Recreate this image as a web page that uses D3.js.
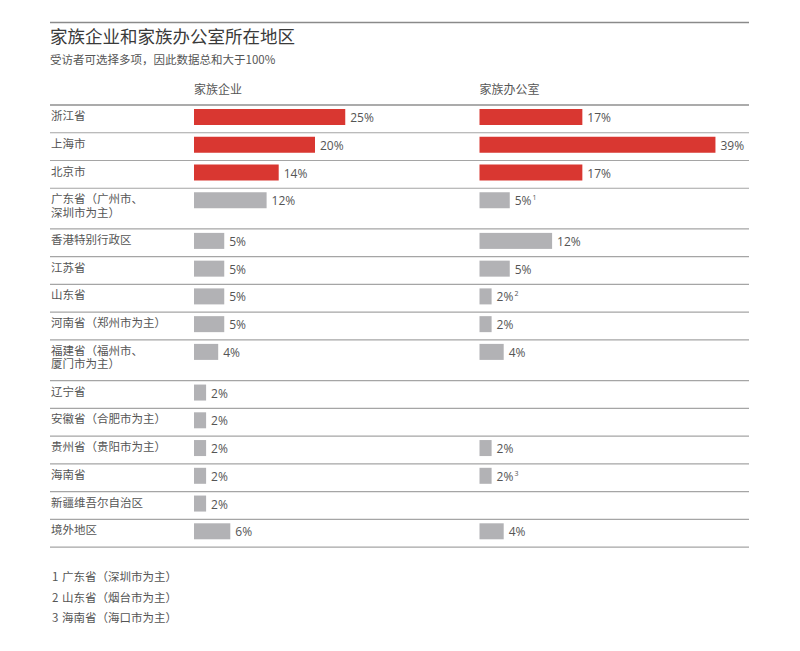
<!DOCTYPE html>
<html>
<head>
<meta charset="utf-8">
<script src="https://d3js.org/d3.v7.min.js"></script>
<style>
  * { margin:0; padding:0; box-sizing:border-box; }
  body { background:#fff; font-family:"Noto Sans CJK SC","Noto Sans",sans-serif; overflow:hidden; }
  svg { display:block; }
</style>
</head>
<body>
<svg id="chart" width="800" height="651"></svg>
<script>
// ── Data ──────────────────────────────────────────────────────────────────────
var title    = "家族企业和家族办公室所在地区";
var subtitle = "受访者可选择多项，因此数据总和大于100%";
var seriesNames = ["家族企业", "家族办公室"];

var regions = [
  "浙江省", "上海市", "北京市", "广东省（广州市、\n深圳市为主）", "香港特别行政区",
  "江苏省", "山东省", "河南省（郑州市为主）", "福建省（福州市、\n厦门市为主）", "辽宁省",
  "安徽省（合肥市为主）", "贵州省（贵阳市为主）", "海南省", "新疆维吾尔自治区", "境外地区"
];
var businessValues = [25, 20, 14, 12, 5, 5, 5, 5, 4, 2, 2, 2, 2, 2, 6];
var officeValues   = [17, 39, 17, 5, 12, 5, 2, 2, 4, null, null, 2, 2, null, 4];
var officeNotes    = [null, null, null, "1", null, null, "2", null, null, null, null, null, "3", null, null];
var highlighted    = ["浙江省", "上海市", "北京市"];
var footnotes = ["广东省（深圳市为主）", "山东省（烟台市为主）", "海南省（海口市为主）"];

// ── Layout ────────────────────────────────────────────────────────────────────
var svg = d3.select("#chart");
var left = 50, right = 749;
var colX = [194, 479.5];
var tableTop = 105;
var rowH = 27.75, extraLine = 12.9;
var red = "#d93731", grey = "#b2b2b5", textCol = "#555";

var x = d3.scaleLinear().domain([0, 40]).range([0, 242]);

// row positions from line counts
var rows = [];
var yPos = tableTop;
regions.forEach(function(r, i) {
  var lines = r.split("\n");
  var h = rowH + (lines.length - 1) * extraLine;
  rows.push({ name: r, lines: lines, y: yPos, h: h, b: businessValues[i], o: officeValues[i], note: officeNotes[i] });
  yPos += h;
});

// top rule + title
svg.append("line").attr("x1", left).attr("x2", right).attr("y1", 22.5).attr("y2", 22.5)
  .attr("stroke", "#8a8a8a").attr("stroke-width", 1.3);
svg.append("text").attr("x", left).attr("y", 43).attr("font-size", 17.5).attr("fill", "#3a3a3a").text(title);
svg.append("text").attr("x", left).attr("y", 64).attr("font-size", 11.5).attr("fill", textCol).text(subtitle);

// column headers
seriesNames.forEach(function(s, i) {
  svg.append("text").attr("x", colX[i]).attr("y", 94).attr("font-size", 12).attr("fill", textCol).text(s);
});

// row rules
svg.append("line").attr("x1", left).attr("x2", right).attr("y1", tableTop).attr("y2", tableTop)
  .attr("stroke", "#8f8f8f").attr("stroke-width", 1.4);
svg.selectAll(".rule").data(rows).join("line")
  .attr("x1", left).attr("x2", right)
  .attr("y1", function(d) { return d.y + d.h; }).attr("y2", function(d) { return d.y + d.h; })
  .attr("stroke", "#a5a5a5").attr("stroke-width", 1.2);

// row labels
var lbl = svg.selectAll(".lbl").data(rows).join("text")
  .attr("font-size", 11.5).attr("fill", textCol);
lbl.selectAll("tspan").data(function(d) { return d.lines.map(function(l, k) { return { t: l, y: d.y + 15 + k * 13.5 }; }); })
  .join("tspan").attr("x", left + 1).attr("y", function(d) { return d.y; }).text(function(d) { return d.t; });

// bars
function drawSeries(key, cx, withNotes) {
  var data = rows.filter(function(d) { return d[key] != null; });
  svg.selectAll(".bar-" + key).data(data).join("rect")
    .attr("x", cx).attr("y", function(d) { return d.y + 4; })
    .attr("width", function(d) { return x(d[key]); }).attr("height", 16)
    .attr("fill", function(d) { return highlighted.indexOf(d.name) >= 0 ? red : grey; });
  var t = svg.selectAll(".val-" + key).data(data).join("text")
    .attr("x", function(d) { return cx + x(d[key]) + 5; })
    .attr("y", function(d) { return d.y + 17; })
    .attr("font-size", 12).attr("fill", textCol)
    .attr("font-family", "'Open Sans','Noto Sans',sans-serif");
  t.append("tspan").text(function(d) { return d[key] + "%"; });
  if (withNotes) {
    t.filter(function(d) { return d.note; }).append("tspan")
      .attr("font-size", 7).attr("dy", -5).attr("dx", 1).text(function(d) { return d.note; });
  }
}
drawSeries("b", colX[0], false);
drawSeries("o", colX[1], true);

// footnotes
footnotes.forEach(function(f, i) {
  var g = svg.append("text").attr("y", 581 + i * 20.5).attr("font-size", 11.5).attr("fill", textCol);
  g.append("tspan").attr("x", 52).text(i + 1);
  g.append("tspan").attr("x", 62).text(f);
});
</script>
</body>
</html>
